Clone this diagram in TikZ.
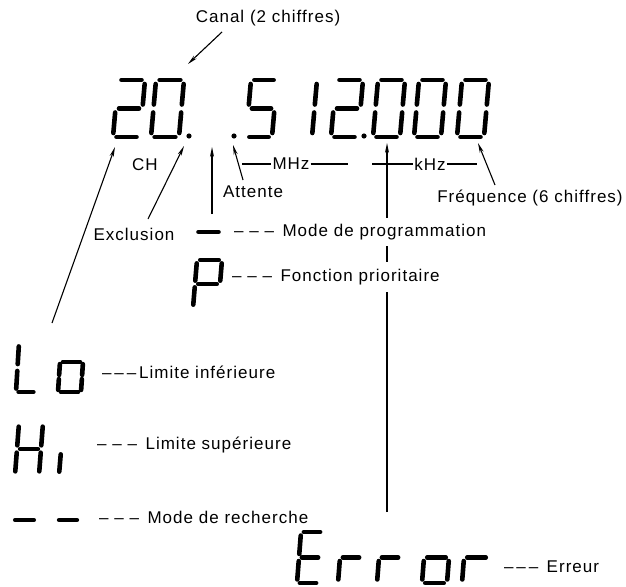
\documentclass[tikz,border=0pt]{standalone}
\usepackage{fontspec}
\setmainfont[LetterSpace=6]{Liberation Sans}
\usetikzlibrary{arrows.meta}
\newcommand\sgap{0.13}
\newcommand\vgap{0.07}
\newcommand\SegA{\draw[segline] ({\sgap},1) -- ({1-\sgap},1);}
\newcommand\SegB{\draw[segline] (1,{1-\vgap}) -- (1,{0.5+\vgap});}
\newcommand\SegC{\draw[segline] (1,{0.5-\vgap}) -- (1,{\vgap});}
\newcommand\SegD{\draw[segline] ({\sgap},0) -- ({1-\sgap},0);}
\newcommand\SegE{\draw[segline] (0,{0.5-\vgap}) -- (0,{\vgap});}
\newcommand\SegF{\draw[segline] (0,{1-\vgap}) -- (0,{0.5+\vgap});}
\newcommand\SegG{\draw[segline] ({\sgap},0.5) -- ({1-\sgap},0.5);}
% x0, ybottom, width, height, slant, segments
\newcommand\SevenSeg[6]{%
  \begin{scope}[shift={(#1,#2)},x={(#3pt,0pt)},y={(#5pt,#4pt)}]
    \foreach \s in {#6}{\csname Seg\s\endcsname}
  \end{scope}}
\begin{document}
\begin{tikzpicture}[x=1pt,y=-1pt,
  segline/.style={line width=4.6pt,line cap=round},
  conn/.style={line width=1.1pt},
  arr/.style={conn,-{Stealth[length=10pt,width=4pt]}},
  lbl/.style={font=\fontsize{17}{20}\selectfont,inner sep=1pt},
  dp/.style={radius=2.6pt}]
\fill[white] (0,0) rectangle (626,586);
\useasboundingbox (0,0) rectangle (626,586);

% main display
\SevenSeg{113}{137}{27}{57}{5}{A,B,G,E,D}
\SevenSeg{151}{137}{28}{57}{5}{A,B,C,D,E,F}
\fill (189,136) circle[dp];
\fill (234,136) circle[dp];
\SevenSeg{246}{137}{26}{57}{5}{A,F,G,C,D}
\SevenSeg{285}{137}{27}{57}{5}{B,C}
\SevenSeg{331}{137}{27}{57}{5}{A,B,G,E,D}
\fill (364,136) circle[dp];
\SevenSeg{373}{137}{27}{57}{5}{A,B,C,D,E,F}
\SevenSeg{414}{137}{27}{57}{5}{A,B,C,D,E,F}
\SevenSeg{457}{137}{27}{57}{5}{A,B,C,D,E,F}

% small symbols
\SevenSeg{195}{252}{27}{40}{0}{G}
\SevenSeg{193}{308}{25}{48}{4}{A,B,F,G,E}
\SevenSeg{16}{392}{20}{49}{3}{F,E,D}
\SevenSeg{58}{392}{23}{30}{2}{A,B,C,D,E,F}
\SevenSeg{15}{475}{24}{52}{4}{B,C,E,F,G}
\SevenSeg{38}{475}{21}{48}{4}{C}
\SevenSeg{12}{520}{25}{50}{0}{D}
\SevenSeg{56}{520}{24}{50}{0}{D}
\SevenSeg{297}{583}{22}{51}{4}{A,F,G,E,D}
\SevenSeg{338}{583}{22}{51}{4}{E,G}
\SevenSeg{377}{583}{22}{51}{4}{E,G}
\SevenSeg{422}{583}{25}{51}{4}{G,C,D,E}
\SevenSeg{462}{583}{25}{51}{4}{E,G}

% labels
\node[lbl] (canal) at (268,18) {Canal (2 chiffres)};
\node[lbl] (ch) at (145,165) {CH};
\node[lbl] (excl) at (134,234) {Exclusion};
\node[lbl] (attente) at (253,192) {Attente};
\node[lbl] (mhz) at (291,164) {MHz};
\node[lbl] (khz) at (430,164) {kHz};
\node[lbl] (freq) at (530,198) {Fréquence (6 chiffres)};
\node[lbl,anchor=west,inner ysep=6pt] (mode) at (233,232) {– – –\enspace Mode de programmation};
\node[lbl,anchor=west,inner ysep=7pt] (fonct) at (231,277) {– – –\enspace Fonction prioritaire};
\node[lbl,anchor=west] (lolbl) at (101,372) {–\,–\,–\,Limite inférieure};
\node[lbl,anchor=west] (hilbl) at (96,445) {– – –\enspace Limite supérieure};
\node[lbl,anchor=west] (rechlbl) at (98,517) {– – –\enspace Mode de recherche};
\node[lbl,anchor=west] (errlbl) at (503,567) {–\,–\,–\enspace Erreur};

% connectors
\coordinate (canaltail) at (222,32);
\coordinate (canaltip) at (188,64);
\draw[arr] (canaltail) -- (canaltip);
\coordinate (lotail) at (52,323);
\coordinate (lotip) at (115,147);
\draw[arr] (lotail) -- (lotip);
\coordinate (excltip) at (184,146);
\coordinate (excltail) at (148,219);
\draw[arr] (excltail) -- (excltip);
\coordinate (progtail) at (212,214);
\coordinate (progtip) at (212,147);
\draw[arr] (progtail) -- (progtip);
\coordinate (atttail) at (243,180);
\coordinate (atttip) at (233,145);
\draw[arr] (atttail) -- (atttip);
\coordinate (mhzl) at (242,164);
\coordinate (mhzr) at (348,164);
\draw[conn] (mhzl) -- (mhz.west);
\draw[conn] (mhz.east) -- (mhzr);
\coordinate (khzl) at (372,164);
\coordinate (khzr) at (477,164);
\draw[conn] (khzl) -- (khz.west);
\draw[conn] (khz.east) -- (khzr);
\coordinate (freqtip) at (478,143);
\coordinate (freqtail) at (495,185);
\draw[arr] (freqtail) -- (freqtip);
\coordinate (vtop) at (387,143);
\coordinate (vbot) at (387,512);
\draw[arr] (mode.north -| vtop) -- (vtop);
\draw[conn] (fonct.north -| vtop) -- (mode.south -| vtop);
\draw[conn] (vbot) -- (fonct.south -| vtop);
\end{tikzpicture}
\end{document}
